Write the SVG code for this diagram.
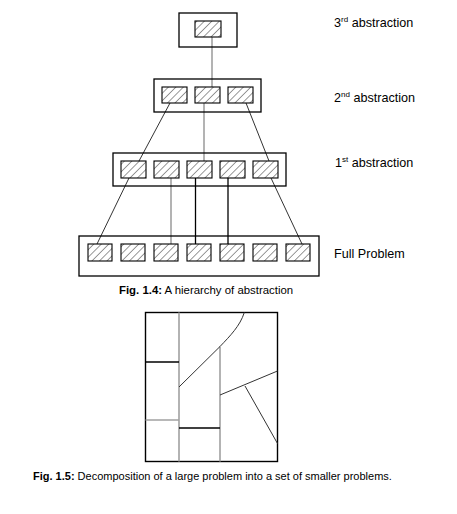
<svg xmlns="http://www.w3.org/2000/svg" width="457" height="514" viewBox="0 0 457 514">
<defs>
<pattern id="hatch" width="5.3" height="5.3" patternUnits="userSpaceOnUse" patternTransform="rotate(45)">
<line x1="0" y1="0" x2="0" y2="5.3" stroke="#333" stroke-width="1"/>
</pattern>
</defs>
<style>
.outer{fill:none;stroke:#000;stroke-width:1.3}
.cell{fill:url(#hatch);stroke:#000;stroke-width:1.1}
.gray{stroke:#a0a0a0;stroke-width:1.6;fill:none}
.dark{stroke:#333;stroke-width:1;fill:none}
.blk{stroke:#000;stroke-width:1.3;fill:none}
.lbl{font-family:"Liberation Sans",Arial,sans-serif;font-size:12.6px;fill:#000}
.sup{font-size:8px}
.cap{font-family:"Liberation Sans",Arial,sans-serif;font-size:11px;fill:#000}
</style>
<rect width="457" height="514" fill="#fff"/>

<g id="connectors">
<line class="gray" x1="212" y1="37" x2="212" y2="87"/>
<line class="dark" x1="170" y1="103" x2="139" y2="161"/>
<line class="gray" x1="204" y1="103" x2="204" y2="161"/>
<line class="dark" x1="246" y1="103" x2="269" y2="161"/>
<line class="dark" x1="129" y1="178" x2="97" y2="244"/>
<line class="gray" x1="171" y1="178" x2="171" y2="244"/>
<line class="blk" x1="195.5" y1="178" x2="195.5" y2="244"/>
<line class="blk" x1="228" y1="178" x2="228" y2="244"/>
<line class="dark" x1="271" y1="178" x2="302" y2="244"/>
</g>

<g id="level3">
<rect class="outer" x="179" y="13" width="58" height="34"/>
<rect class="cell" x="195" y="21" width="26" height="16"/>
<text class="lbl" x="334" y="27">3<tspan class="sup" dy="-5">rd</tspan><tspan dy="5"> abstraction</tspan></text>
</g>

<g id="level2">
<rect class="outer" x="154" y="79" width="107" height="33"/>
<rect class="cell" x="162" y="87" width="25" height="16"/>
<rect class="cell" x="195" y="87" width="25" height="16"/>
<rect class="cell" x="228" y="87" width="25" height="16"/>
<text class="lbl" x="334" y="102">2<tspan class="sup" dy="-5">nd</tspan><tspan dy="5"> abstraction</tspan></text>
</g>

<g id="level1">
<rect class="outer" x="113" y="153" width="173" height="33"/>
<rect class="cell" x="121" y="161" width="25" height="17"/>
<rect class="cell" x="154" y="161" width="25" height="17"/>
<rect class="cell" x="187" y="161" width="25" height="17"/>
<rect class="cell" x="220" y="161" width="25" height="17"/>
<rect class="cell" x="253" y="161" width="25" height="17"/>
<text class="lbl" x="335" y="167">1<tspan class="sup" dy="-5">st</tspan><tspan dy="5"> abstraction</tspan></text>
</g>

<g id="full">
<rect class="outer" x="79" y="236" width="240" height="40"/>
<rect class="cell" x="88" y="244" width="24" height="17"/>
<rect class="cell" x="121" y="244" width="24" height="17"/>
<rect class="cell" x="154" y="244" width="24" height="17"/>
<rect class="cell" x="187" y="244" width="24" height="17"/>
<rect class="cell" x="220" y="244" width="24" height="17"/>
<rect class="cell" x="253" y="244" width="24" height="17"/>
<rect class="cell" x="286" y="244" width="24" height="17"/>
<text class="lbl" x="334" y="258">Full Problem</text>
</g>

<text class="cap" x="119" y="294" style="font-size:11.4px"><tspan font-weight="bold">Fig. 1.4:</tspan> A hierarchy of abstraction</text>

<g id="decomposition">
<rect x="145.5" y="312.5" width="132" height="149" fill="none" stroke="#000" stroke-width="1.4"/>
<line class="gray" x1="179" y1="312.5" x2="179" y2="461.5"/>
<line class="gray" x1="220" y1="346.5" x2="220" y2="461.5"/>
<line class="blk" x1="145.5" y1="362" x2="179" y2="362" stroke-width="1.2"/>
<line class="gray" x1="145.5" y1="420" x2="179" y2="420"/>
<line class="blk" x1="179" y1="428" x2="220" y2="428" stroke-width="1.2"/>
<path class="dark" d="M179,387 L220,346.5 C230,336 240,326 244.3,312.5"/>
<line class="dark" x1="220" y1="395" x2="277.5" y2="371"/>
<line class="dark" x1="245" y1="386" x2="277.5" y2="443.5"/>
</g>

<text class="cap" x="33" y="480"><tspan font-weight="bold">Fig. 1.5:</tspan> Decomposition of a large problem into a set of smaller problems.</text>
</svg>
